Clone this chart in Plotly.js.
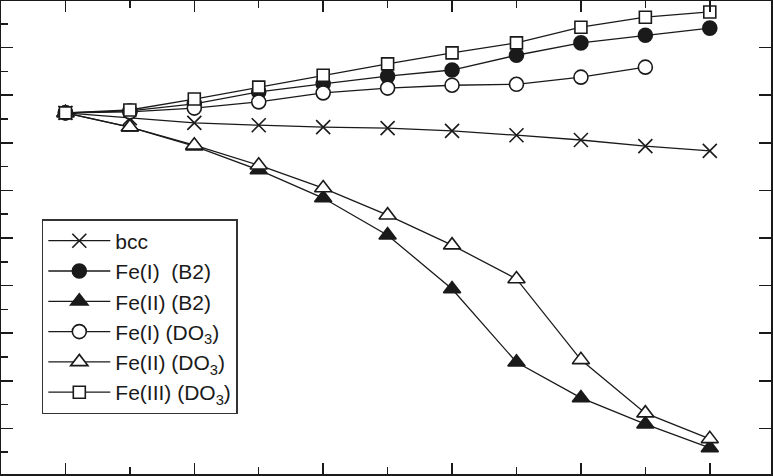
<!DOCTYPE html>
<html>
<head>
<meta charset="utf-8">
<script src="https://cdn.plot.ly/plotly-3.0.1.min.js"></script>
<style>
  html, body { margin:0; padding:0; background:#fff; }
  #chart { width:773px; height:476px; }
</style>
</head>
<body>
<div id="chart"></div>
<script>
// x positions (no labels in the original, ticks only)
const steps = [0, 1, 2, 3, 4, 5, 6, 7, 8, 9, 10];

// series values (arbitrary units)
const bcc      = [7.63, 7.52, 7.42, 7.37, 7.33, 7.31, 7.25, 7.16, 7.06, 6.93, 6.83];
const fe1B2    = [7.63, 7.67, 7.82, 8.07, 8.24, 8.40, 8.53, 8.84, 9.10, 9.26, 9.41];
const fe2B2    = [7.63, 7.33, 6.93, 6.43, 5.84, 5.06, 3.93, 2.39, 1.64, 1.09, 0.59];
const fe1DO3   = [7.63, 7.65, 7.73, 7.86, 8.05, 8.15, 8.21, 8.23, 8.38, 8.59];
const fe2DO3   = [7.63, 7.33, 6.95, 6.53, 6.05, 5.48, 4.85, 4.14, 2.44, 1.32, 0.78];
const fe3DO3   = [7.63, 7.69, 7.92, 8.17, 8.42, 8.66, 8.89, 9.10, 9.43, 9.64, 9.75];

const INK = "#1a1a1a";

function series(name, y, symbol, size, fill){
  return {
    x: steps.slice(0, y.length), y: y, name: name,
    type: "scatter", mode: "lines+markers",
    legendgroup: name,
    line: { color: INK, width: 1.3 },
    marker: { symbol: symbol, size: size, color: fill, line: { color: INK, width: 1.6 } }
  };
}

const traces = [
  series("bcc", bcc, "x-thin-open", 14, INK),
  series("Fe(I)  (B2)", fe1B2, "circle", 14, INK),
  series("Fe(II) (B2)", fe2B2, "triangle-up", 15, INK),
  series("Fe(I) (DO<sub>3</sub>)", fe1DO3, "circle", 14, "#fff"),
  series("Fe(II) (DO<sub>3</sub>)", fe2DO3, "triangle-up", 15, "#fff"),
  series("Fe(III) (DO<sub>3</sub>)", fe3DO3, "square", 12, "#fff")
];
// dummy trace for the right-hand y ticks
traces.push({ x: [0], y: [5], yaxis: "y2", mode: "markers", marker: { opacity: 0 },
  showlegend: false, hoverinfo: "skip" });

const layout = {
  width: 773, height: 476,
  margin: { l: 1, r: 2, t: 1, b: 2 },
  paper_bgcolor: "#fff", plot_bgcolor: "#fff",
  font: { family: "Liberation Sans, Arial, sans-serif", color: INK, size: 21 },
  showlegend: true,
  legend: {
    x: 0.053, y: 0.539, xanchor: "left", yanchor: "top",
    bgcolor: "#fff", bordercolor: "#333", borderwidth: 1.5,
    tracegroupgap: 0, itemwidth: 62, font: { size: 21 }
  },
  xaxis: {
    range: [-1, 10.95], showgrid: false, zeroline: false,
    showline: true, linecolor: INK, linewidth: 1.5, mirror: "ticks",
    ticks: "inside", tick0: 0, dtick: 2, ticklen: 11, tickwidth: 1.5, tickcolor: INK,
    minor: { dtick: 1, ticks: "inside", ticklen: 7, tickwidth: 1.5, tickcolor: INK },
    showticklabels: false
  },
  yaxis: {
    range: [0.042, 9.98], showgrid: false, zeroline: false,
    showline: true, linecolor: INK, linewidth: 1.5, mirror: true,
    ticks: "inside", tick0: 0, dtick: 1, ticklen: 12, tickwidth: 1.5, tickcolor: INK,
    minor: { dtick: 0.5, ticks: "inside", ticklen: 7, tickwidth: 1.5, tickcolor: INK },
    showticklabels: false
  },
  yaxis2: {
    overlaying: "y", side: "right", range: [0.042, 9.98],
    showgrid: false, zeroline: false, showline: false,
    ticks: "inside", tick0: 0, dtick: 1, ticklen: 12, tickwidth: 1.5, tickcolor: INK,
    showticklabels: false
  }
};

Plotly.newPlot("chart", traces, layout, { displayModeBar: false, staticPlot: true });
</script>
</body>
</html>
